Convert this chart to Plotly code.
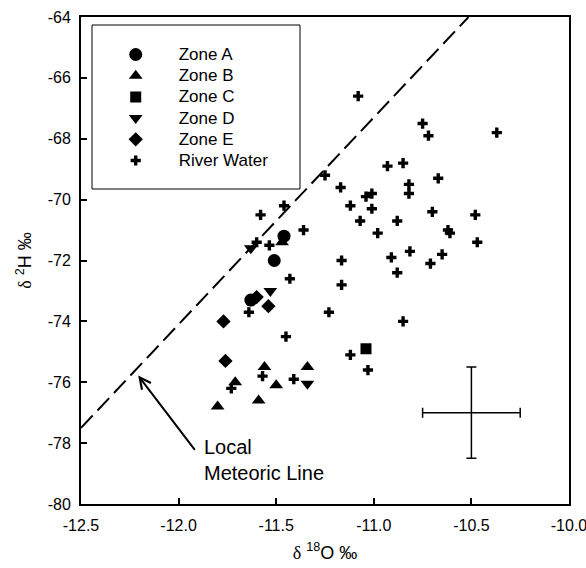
import plotly.graph_objects as go

# ---- data ----
river_x = [-11.58, -11.46, -11.36, -11.60, -11.535, -11.43, -11.64, -11.45, -11.73, -11.57,
           -11.41, -11.23, -11.12, -11.03, -10.85, -11.165, -11.165, -10.91, -10.815, -10.88,
           -10.71, -10.65, -10.98, -10.62, -10.61, -10.47, -10.48, -10.70, -10.88, -11.07,
           -11.01, -11.12, -11.04, -11.01, -11.17, -11.25, -10.93, -10.85, -10.82, -10.82,
           -10.67, -10.75, -10.72, -10.37, -11.08]
river_y = [-70.5, -70.2, -71.0, -71.4, -71.5, -72.6, -73.7, -74.5, -76.2, -75.8,
           -75.9, -73.7, -75.1, -75.6, -74.0, -72.0, -72.8, -71.9, -71.7, -72.4,
           -72.1, -71.8, -71.1, -71.0, -71.1, -71.4, -70.5, -70.4, -70.7, -70.7,
           -70.3, -70.2, -69.9, -69.8, -69.6, -69.2, -68.9, -68.8, -69.5, -69.8,
           -69.3, -67.5, -67.9, -67.8, -66.6]

zoneA_x = [-11.46, -11.51, -11.63]
zoneA_y = [-71.2, -72.0, -73.3]
zoneB_x = [-11.47, -11.56, -11.71, -11.50, -11.59, -11.80, -11.34]
zoneB_y = [-71.4, -75.5, -76.0, -76.1, -76.6, -76.8, -75.5]
zoneC_x = [-11.04]
zoneC_y = [-74.9]
zoneD_x = [-11.63, -11.53, -11.34]
zoneD_y = [-71.6, -73.0, -76.05]
zoneE_x = [-11.60, -11.54, -11.77, -11.76]
zoneE_y = [-73.2, -73.5, -74.0, -75.3]

# local meteoric line: d2H = 6.8 * d18O + 7.5
lml_slope = 6.8
lml_intercept = 7.5
lml_x = [-12.5, (-64 - lml_intercept) / lml_slope]
lml_y = [lml_slope * v + lml_intercept for v in lml_x]

# analytical uncertainty cross
err_x = [-10.5]
err_y = [-77.0]
err_dx = [0.25]
err_dy = [1.5]

x_ticks = [-12.5, -12.0, -11.5, -11.0, -10.5, -10.0]
x_ticklabels = ["-12.5", "-12.0", "-11.5", "-11.0", "-10.5", "-10.0"]
y_ticks = [-80, -78, -76, -74, -72, -70, -68, -66, -64]
y_ticklabels = ["-80", "-78", "-76", "-74", "-72", "-70", "-68", "-66", "-64"]

FONT = "Arial, Liberation Sans, sans-serif"
LEG = '<span style="font-size:17px">%s</span>'

fig = go.Figure()

fig.add_trace(go.Scatter(x=lml_x, y=lml_y, mode="lines", showlegend=False,
                         line=dict(color="black", width=2, dash="17px,7px"),
                         hoverinfo="skip"))

zones = [
    ("Zone A", zoneA_x, zoneA_y, "circle", 13),
    ("Zone B", zoneB_x, zoneB_y, "triangle-up", 12),
    ("Zone C", zoneC_x, zoneC_y, "square", 11),
    ("Zone D", zoneD_x, zoneD_y, "triangle-down", 12),
    ("Zone E", zoneE_x, zoneE_y, "diamond", 11),
]
for name, xs, ys, sym, sz in zones:
    fig.add_trace(go.Scatter(x=xs, y=ys, mode="markers", name=LEG % name,
                             marker=dict(symbol=sym, size=sz, color="black",
                                         line=dict(width=0))))

fig.add_trace(go.Scatter(x=river_x, y=river_y, mode="markers", name=LEG % "River Water",
                         marker=dict(symbol="cross", size=8.5, color="black",
                                     line=dict(width=0))))

fig.add_trace(go.Scatter(x=err_x, y=err_y, mode="markers", showlegend=False,
                         marker=dict(size=1, color="rgba(0,0,0,0)"),
                         error_x=dict(type="data", array=err_dx, color="black",
                                      thickness=1.5, width=5),
                         error_y=dict(type="data", array=err_dy, color="black",
                                      thickness=1.5, width=5)))

# legend box
fig.add_shape(type="rect", xref="paper", yref="paper",
              x0=(92 - 81) / 488, x1=(300 - 81) / 488,
              y0=(504 - 189) / 487, y1=(504 - 25) / 487,
              line=dict(color="black", width=1), fillcolor="rgba(0,0,0,0)")

# annotation
fig.add_annotation(x=-12.207, y=-75.78, ax=-11.911, ay=-78.27, xref="x", yref="y",
                   axref="x", ayref="y", text="", showarrow=True, arrowhead=5,
                   arrowsize=1.1, arrowwidth=2, arrowcolor="black", standoff=0)
fig.add_annotation(x=-11.88, y=-78.57, xref="x", yref="y", text="Local<br>Meteoric Line",
                   showarrow=False, xanchor="left", yanchor="middle", align="left",
                   font=dict(family=FONT, size=20, color="black"))

delta = '<span style="font-family:Liberation Serif, Times New Roman, serif">δ</span>'

fig.update_layout(
    width=586, height=568,
    margin=dict(l=81, r=17, t=17, b=64),
    paper_bgcolor="white", plot_bgcolor="white",
    font=dict(family=FONT, size=16, color="black"),
    legend=dict(x=0.024, y=0.955, xanchor="left", yanchor="top",
                bgcolor="rgba(0,0,0,0)", borderwidth=0, itemwidth=76,
                font=dict(family=FONT, size=14, color="black")),
    xaxis=dict(range=[-12.5, -10.0], tickvals=x_ticks, ticktext=x_ticklabels,
               ticks="inside", ticklen=6, tickwidth=2, tickcolor="black",
               showline=True, linewidth=2, linecolor="black", mirror=True,
               showgrid=False, zeroline=False, automargin=False,
               ticklabeloverflow="allow", ticklabelstandoff=6,
               title=dict(text=delta + " <sup>18</sup>O ‰", standoff=13,
                          font=dict(family=FONT, size=18))),
    yaxis=dict(range=[-80, -64], tickvals=y_ticks, ticktext=y_ticklabels,
               ticks="inside", ticklen=6, tickwidth=2, tickcolor="black",
               showline=True, linewidth=2, linecolor="black", mirror=True,
               showgrid=False, zeroline=False, ticklabelstandoff=5,
               automargin=False, ticklabeloverflow="allow",
               title=dict(text=delta + " <sup>2</sup>H ‰", standoff=11,
                          font=dict(family=FONT, size=18))),
)

fig.write_html("out.html", config={"displayModeBar": False},
               post_script="document.body.style.margin='0';document.body.style.padding='0';")
